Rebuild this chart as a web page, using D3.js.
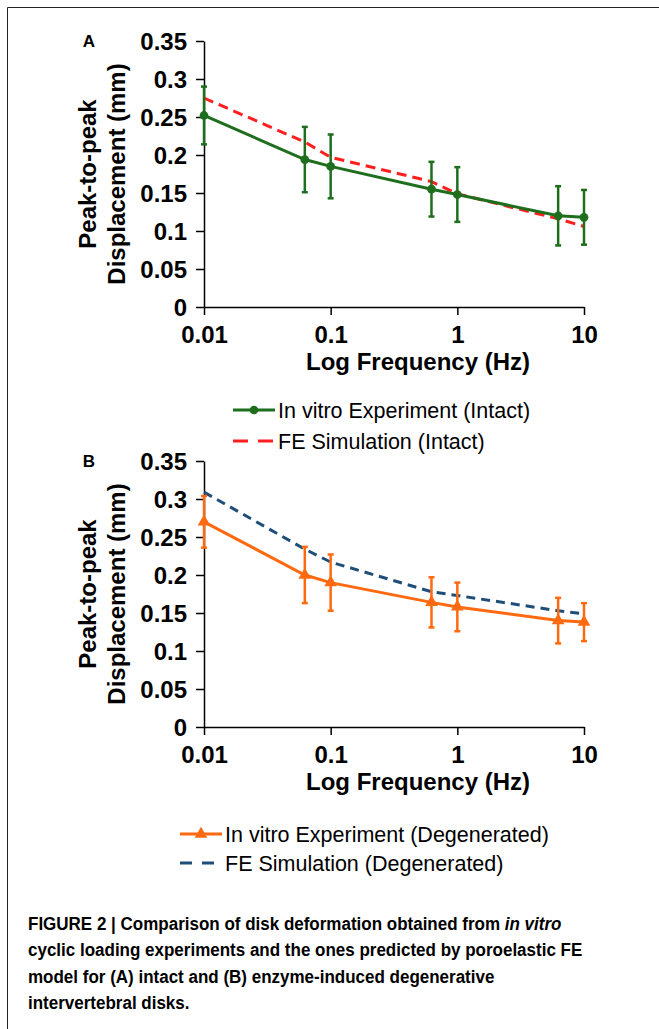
<!DOCTYPE html>
<html>
<head>
<meta charset="utf-8">
<script src="https://cdn.jsdelivr.net/npm/d3@7"></script>
<style>
  html, body { margin: 0; padding: 0; background: #ffffff; }
  svg { display: block; }
</style>
</head>
<body>
<div id="chart"></div>
<script>
// === DATA ===
const frequencies = [0.01, 0.0625, 0.1, 0.625, 1, 6.25, 10];
const xTickValues = [0.01, 0.1, 1, 10];
const xTickLabels = ['0.01', '0.1', '1', '10'];
const yTickValues = [0, 0.05, 0.1, 0.15, 0.2, 0.25, 0.3, 0.35];
const yTickLabels = ['0', '0.05', '0.1', '0.15', '0.2', '0.25', '0.3', '0.35'];

// Panel A - intact disks
const intactExperiment = [0.252, 0.194, 0.185, 0.155, 0.148, 0.120, 0.118];
const intactError = [0.038, 0.043, 0.042, 0.036, 0.036, 0.039, 0.036];
const intactSimulation = [0.275, 0.217, 0.197, 0.165, 0.149, 0.116, 0.106];

// Panel B - degenerated disks
const degenExperiment = [0.270, 0.200, 0.190, 0.164, 0.158, 0.140, 0.138];
const degenError = [0.034, 0.037, 0.037, 0.033, 0.032, 0.030, 0.025];
const degenSimulation = [0.309, 0.234, 0.217, 0.178, 0.173, 0.153, 0.149];

const legendA = ['In vitro Experiment (Intact)', 'FE Simulation (Intact)'];
const legendB = ['In vitro Experiment (Degenerated)', 'FE Simulation (Degenerated)'];

// === END OF DATA ===

const width = 659, height = 1029;
const boldFont = '"Liberation Sans", Arial, sans-serif';

const svg = d3.select('#chart').append('svg')
    .attr('width', width)
    .attr('height', height);

// frame (top + left edge of the figure box)
svg.append('line').attr('x1', 7.5).attr('y1', 7.5).attr('x2', width).attr('y2', 7.5)
    .attr('stroke', '#222').attr('stroke-width', 1);
svg.append('line').attr('x1', 7.5).attr('y1', 7.5).attr('x2', 7.5).attr('y2', height)
    .attr('stroke', '#222').attr('stroke-width', 1);

const x = d3.scaleLog().domain([0.01, 10]).range([204, 584]);

function drawPanel(opts) {
    const top = opts.top;
    const y = d3.scaleLinear().domain([0, 0.35]).range([top + 266, top]);
    const g = svg.append('g');

    // panel letter
    g.append('text')
        .attr('x', 89).attr('y', top + 6)
        .attr('text-anchor', 'middle')
        .attr('font-family', boldFont).attr('font-weight', 'bold')
        .attr('font-size', '17px')
        .text(opts.letter);

    // axes
    const xAxis = d3.axisBottom(x)
        .tickValues(xTickValues)
        .tickFormat((d, i) => xTickLabels[i])
        .tickSizeInner(8).tickSizeOuter(0).tickPadding(4);
    const yAxis = d3.axisLeft(y)
        .tickValues(yTickValues)
        .tickFormat((d, i) => yTickLabels[i])
        .tickSizeInner(8).tickSizeOuter(0).tickPadding(9);

    const gx = g.append('g').attr('transform', `translate(0,${y(0)})`).call(xAxis);
    const gy = g.append('g').attr('transform', `translate(${x(0.01)},0)`).call(yAxis);
    [gx, gy].forEach(a => {
        a.selectAll('path, line').attr('stroke', '#000').attr('stroke-width', 1.5);
        a.selectAll('text')
            .attr('fill', '#000')
            .attr('font-family', boldFont).attr('font-weight', 'bold')
            .attr('font-size', '24px');
    });
    gy.selectAll('text').attr('dy', '0.36em');
    gx.selectAll('text').attr('dy', '0.98em');

    // axis titles
    g.append('text')
        .attr('x', 418).attr('y', top + 329)
        .attr('text-anchor', 'middle')
        .attr('font-family', boldFont).attr('font-weight', 'bold')
        .attr('font-size', '24px')
        .text('Log Frequency (Hz)');

    const yc = (y(0) + y(0.35)) / 2;
    g.append('text')
        .attr('transform', `translate(96,${yc}) rotate(-90)`)
        .attr('text-anchor', 'middle')
        .attr('font-family', boldFont).attr('font-weight', 'bold')
        .attr('font-size', '24px')
        .text('Peak-to-peak');
    g.append('text')
        .attr('transform', `translate(125,${yc}) rotate(-90)`)
        .attr('text-anchor', 'middle')
        .attr('font-family', boldFont).attr('font-weight', 'bold')
        .attr('font-size', '24px')
        .text('Displacement (mm)');

    const expPts = frequencies.map((f, i) => ({ f, v: opts.exp[i], e: opts.err[i] }));
    const simPts = frequencies.map((f, i) => ({ f, v: opts.sim[i] }));
    const line = d3.line().x(d => x(d.f)).y(d => y(d.v));

    // simulation (dashed) line
    g.append('path')
        .datum(simPts)
        .attr('d', line)
        .attr('fill', 'none')
        .attr('stroke', opts.simColor)
        .attr('stroke-width', 3)
        .attr('stroke-dasharray', opts.dash);

    // experiment line
    g.append('path')
        .datum(expPts)
        .attr('d', line)
        .attr('fill', 'none')
        .attr('stroke', opts.expColor)
        .attr('stroke-width', 3);

    // error bars
    const eb = g.append('g').selectAll('g').data(expPts).enter().append('g')
        .attr('stroke', opts.expColor).attr('stroke-width', 2.5);
    eb.append('line')
        .attr('x1', d => x(d.f)).attr('x2', d => x(d.f))
        .attr('y1', d => y(d.v + d.e)).attr('y2', d => y(d.v - d.e));
    eb.append('line')
        .attr('x1', d => x(d.f) - 3).attr('x2', d => x(d.f) + 3)
        .attr('y1', d => y(d.v + d.e)).attr('y2', d => y(d.v + d.e));
    eb.append('line')
        .attr('x1', d => x(d.f) - 3).attr('x2', d => x(d.f) + 3)
        .attr('y1', d => y(d.v - d.e)).attr('y2', d => y(d.v - d.e));

    // markers
    const symbol = d3.symbol().type(opts.marker).size(opts.markerSize);
    g.append('g').selectAll('path').data(expPts).enter().append('path')
        .attr('d', symbol)
        .attr('transform', d => `translate(${x(d.f)},${y(d.v)})`)
        .attr('fill', opts.expColor);

    // legend
    const lg = g.append('g');
    opts.legend.forEach((label, i) => {
        const ly = opts.legendY[i];
        const lx = opts.legendX;
        lg.append('line')
            .attr('x1', lx).attr('x2', lx + 42)
            .attr('y1', ly).attr('y2', ly)
            .attr('stroke', i === 0 ? opts.expColor : opts.simColor)
            .attr('stroke-width', 3)
            .attr('stroke-dasharray', i === 0 ? null : opts.legendDash);
        if (i === 0) {
            lg.append('path')
                .attr('d', symbol)
                .attr('transform', `translate(${lx + 21},${ly})`)
                .attr('fill', opts.expColor);
        }
        lg.append('text')
            .attr('x', lx + 45).attr('y', ly + 8)
            .attr('font-family', boldFont)
            .attr('font-size', '21.5px')
            .attr('fill', '#000')
            .text(label);
    });
}

drawPanel({
    top: 41, letter: 'A',
    exp: intactExperiment, err: intactError, sim: intactSimulation,
    expColor: '#1e6e1e', simColor: '#ff1f1f', dash: '10,6', legendDash: '15,10',
    marker: d3.symbolCircle, markerSize: 60,
    legend: legendA, legendX: 233, legendY: [410, 441]
});

drawPanel({
    top: 461, letter: 'B',
    exp: degenExperiment, err: degenError, sim: degenSimulation,
    expColor: '#ff6a10', simColor: '#1f4e79', dash: '9,6', legendDash: '12,10',
    marker: d3.symbolTriangle, markerSize: 70,
    legend: legendB, legendX: 180, legendY: [834, 863]
});

// caption (condensed bold face, squeezed horizontally)
const caption = svg.append('text')
    .attr('transform', 'translate(28,0) scale(0.895,1)')
    .attr('font-family', boldFont)
    .attr('font-weight', 'bold')
    .attr('font-size', '19px')
    .attr('fill', '#000');
const capLines = [
    [['FIGURE 2 | Comparison of disk deformation obtained from ', false], ['in vitro', true]],
    [['cyclic loading experiments and the ones predicted by poroelastic FE', false]],
    [['model for (A) intact and (B) enzyme-induced degenerative', false]],
    [['intervertebral disks', false], ['.', false]]
];
capLines.forEach((parts, i) => {
    const t = caption.append('tspan').attr('x', 0).attr('y', 930 + i * 26.5);
    parts.forEach(([txt, it], j) => {
        const s = j === 0 ? t : caption.append('tspan');
        s.text(txt);
        if (it) s.attr('font-style', 'italic');
    });
});
</script>
</body>
</html>
